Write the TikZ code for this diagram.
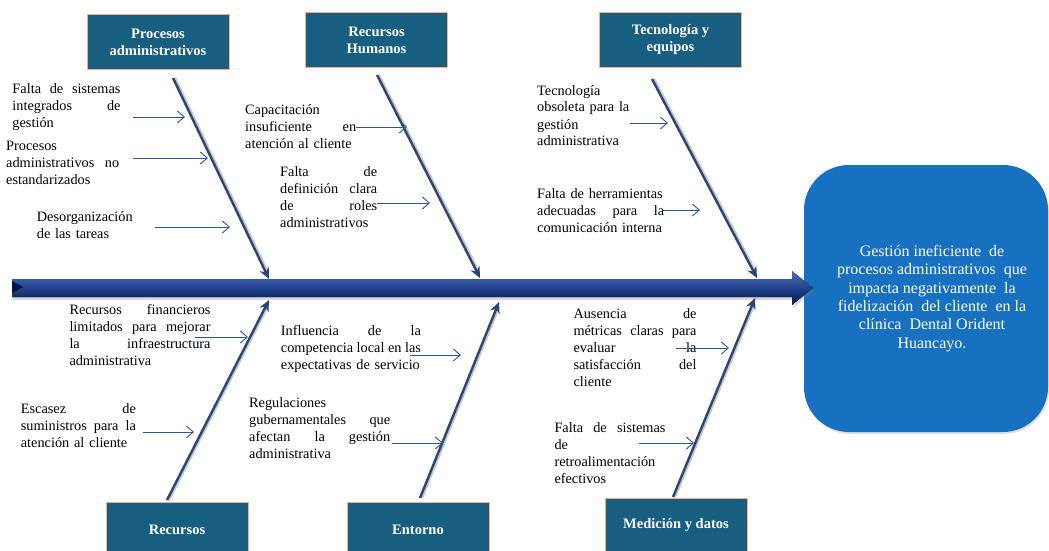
\documentclass[tikz,border=0pt]{standalone}
\usepackage{fontspec}
\setmainfont{Liberation Serif}
\usepackage{xcolor}
\definecolor{colorBox}{RGB}{23,94,128}
\definecolor{colorBoxLine}{RGB}{244,177,131}
\definecolor{colorBone}{RGB}{42,70,118}
\definecolor{colorTwig}{RGB}{47,85,151}
\definecolor{colorSpineTop}{RGB}{72,108,190}
\definecolor{colorSpineMid}{RGB}{24,52,138}
\definecolor{colorSpineBot}{RGB}{0,24,84}
\definecolor{colorEffect}{RGB}{24,112,192}
\usepackage{tikz}
\usetikzlibrary{arrows.meta, shadows}
\newcommand{\jl}[1]{\makebox[\hsize][s]{\spaceskip=0pt\xspaceskip=0pt\relax #1}}
\tikzset{
  catbox/.style={draw=colorBoxLine, fill=colorBox, text=white, font=\fontsize{14.5}{17}\selectfont\bfseries,
    minimum width=142pt, minimum height=55pt, align=center, inner sep=0pt},
  cause/.style={anchor=base west, inner sep=0pt, text width=#1, align=left, font=\fontsize{14.3}{17}\selectfont},
  bone/.style={draw=colorBone, line width=2.4pt, -{Stealth[length=11pt,width=10pt]}},
  boneshade/.style={draw=black!22, line width=3.6pt, shorten >=9pt},
  twig/.style={draw=colorTwig, line width=0.9pt, -{Straight Barb[length=7pt,width=12pt]}},
}

\begin{document}
\begin{tikzpicture}[x=1pt, y=-1pt]
\useasboundingbox (0,0) rectangle (1049,551);
\clip (0,0) rectangle (1049,551);

% effect
\node[fill=colorEffect, rounded corners=45pt, minimum width=244pt, minimum height=267pt, text=white,
  align=center, font=\fontsize{16}{18.3}\selectfont,
  drop shadow={opacity=0.25, shadow xshift=1pt, shadow yshift=-2pt}] (eff) at (926,298.5)
  {\hspace*{12pt}Gesti\'on ineficiente\ \ de\\ \hspace*{12pt}procesos administrativos\ \ que\\ \hspace*{12pt}impacta negativamente\ \ la\\
   \hspace*{12pt}fidelizaci\'on\ \ del cliente\ \ en la\\ \hspace*{12pt}cl\'inica\ \ Dental Orident\\ \hspace*{12pt}Huancayo.};

% spine
\fill[top color=colorSpineTop, middle color=colorSpineMid, bottom color=colorSpineBot,
  drop shadow={opacity=0.3, shadow xshift=1pt, shadow yshift=-3pt}]
  (12,279) -- (792,279) -- (792,271) -- (813,288) -- (792,305) -- (792,297) -- (12,297) -- cycle;
\fill[colorSpineBot!80!black] (12,281) -- (23,287) -- (12,293) -- cycle;

% categories
\node[catbox] (pa) at (158,42) {Procesos\\administrativos};
\node[catbox] (rh) at (376.5,40) {Recursos\\Humanos};
\node[catbox] (te) at (670.5,40) {Tecnolog\'ia y\\equipos};
\node[catbox] (re) at (177,529.5) {Recursos};
\node[catbox] (en) at (418,529.5) {Entorno};
\node[catbox] (md) at (676,525.5) {Medici\'on y datos};

% bones
\coordinate (pa-a) at (173,78);  \coordinate (pa-b) at (269,279);
\coordinate (rh-a) at (377,75);  \coordinate (rh-b) at (480,278);
\coordinate (te-a) at (652,79);  \coordinate (te-b) at (757,278);
\coordinate (re-a) at (167,500); \coordinate (re-b) at (269,300);
\coordinate (en-a) at (420,498); \coordinate (en-b) at (499,302);
\coordinate (md-a) at (673,497); \coordinate (md-b) at (755,298);
\foreach \b in {pa,rh,te,re,en,md}{
  \draw[boneshade, transform canvas={xshift=1.3pt}] (\b-a) -- (\b-b);
  \draw[bone] (\b-a) -- (\b-b);
}

% causes
\node[cause=108pt] (pa1) at (12.3,93) {\jl{Falta de sistemas}\\\jl{integrados de}\\gesti\'on};
\node[cause=113pt] (pa2) at (6,150) {Procesos\\\jl{administrativos no}\\estandarizados};
\node[cause=98pt] (pa3) at (36.7,221) {Desorganizaci\'on\\de las tareas};
\node[cause=111pt] (rh1) at (245,114) {Capacitaci\'on\\\jl{insuficiente en}\\atenci\'on al cliente};
\node[cause=97pt] (rh2) at (280,176) {\jl{Falta de}\\\jl{definici\'on clara}\\\jl{de roles}\\administrativos};
\node[cause=94pt] (te1) at (537,95) {Tecnolog\'ia\\obsoleta para la\\gesti\'on\\administrativa};
\node[cause=127pt] (te2) at (537,198) {Falta de herramientas\\\jl{adecuadas para la}\\comunicaci\'on interna};
\node[cause=141pt] (re1) at (69.3,314) {\jl{Recursos financieros}\\\jl{limitados para mejorar}\\\jl{la infraestructura}\\administrativa};
\node[cause=115pt] (re2) at (20.7,413) {\jl{Escasez de}\\\jl{suministros para la}\\atenci\'on al cliente};
\node[cause=140pt] (en1) at (280.7,335) {\jl{Influencia de la}\\\jl{competencia local en las}\\expectativas de servicio};
\node[cause=141pt] (en2) at (249,407) {Regulaciones\\\jl{gubernamentales que}\\\jl{afectan la gesti\'on}\\administrativa};
\node[cause=123pt] (md1) at (573.3,318) {\jl{Ausencia de}\\\jl{m\'etricas claras para}\\\jl{evaluar la}\\\jl{satisfacci\'on del}\\cliente};
\node[cause=111pt] (md2) at (554.3,432) {\jl{Falta de sistemas}\\de\\retroalimentaci\'on\\efectivos};

% twigs
\foreach \n/\xa/\xb/\y in {pa1/133/185/117, pa2/133/208/158, pa3/155/230/227,
  rh1/356/407/127, rh2/377/430/203, te1/630/668/123, te2/663/700/210,
  re1/195/248/337, re2/143/194/432, en1/410/461/355, en2/392/443/443,
  md1/676/729/348, md2/639/694/443}{
  \coordinate (\n-a) at (\xa,\y);
  \coordinate (\n-b) at (\xb,\y);
  \draw[twig] (\n-a) -- (\n-b);
}
\end{tikzpicture}
\end{document}
